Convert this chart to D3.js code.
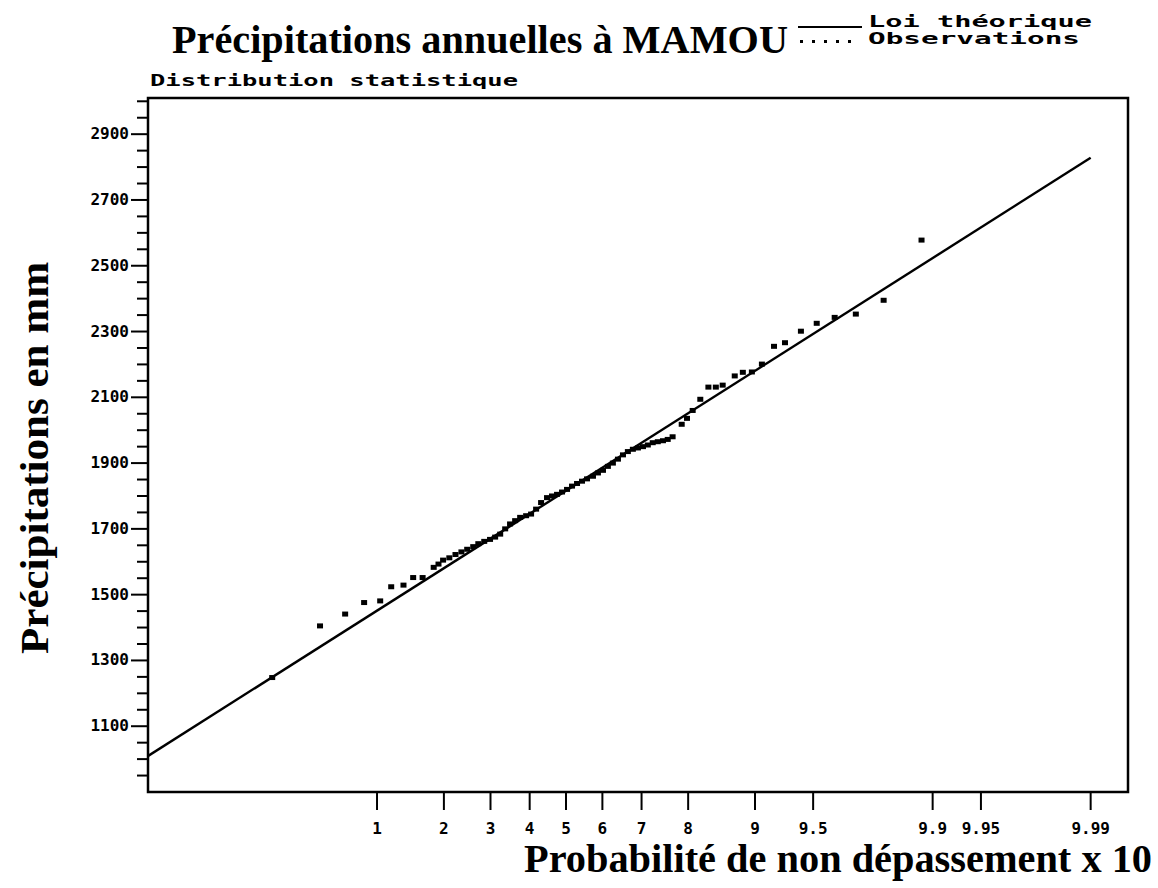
<!DOCTYPE html>
<html lang="fr">
<head>
    <meta charset="UTF-8">
    <title>Précipitations annuelles à MAMOU</title>
    <script src="https://cdn.jsdelivr.net/npm/d3@7"></script>
    <style>
        body { margin: 0; background: #fff; }
        .serif { font-family: "Liberation Serif", "DejaVu Serif", serif; font-weight: bold; fill: #000; }
        .mono { font-family: "DejaVu Sans Mono", monospace; font-weight: bold; fill: #000; }
        .frame { fill: none; stroke: #000; stroke-width: 2.5px; }
        .tick { stroke: #000; stroke-width: 2px; }
        .law { fill: none; stroke: #000; stroke-width: 2.4px; }
        .obs { fill: #000; }
    </style>
</head>
<body>
<script>
    // observations : frequence de non depassement et pluie annuelle (mm)
    const obsFreq = [0.0273, 0.0507, 0.069, 0.0863, 0.1036, 0.117, 0.1335, 0.1477, 0.1626, 0.1814, 0.19,
        0.1985, 0.2104, 0.2226, 0.2348, 0.247, 0.2602, 0.2716, 0.2852, 0.2989, 0.3112, 0.3236, 0.3361,
        0.3485, 0.3616, 0.3747, 0.3905, 0.4038, 0.4174, 0.431, 0.4473, 0.4611, 0.475, 0.4889, 0.5028,
        0.5167, 0.5306, 0.5444, 0.5582, 0.5745, 0.588, 0.6016, 0.6147, 0.6279, 0.6411, 0.654, 0.6664,
        0.6789, 0.6913, 0.7034, 0.7148, 0.7261, 0.7375, 0.7489, 0.7591, 0.7693,
        0.7876, 0.7978, 0.8084, 0.822, 0.8357, 0.8476, 0.858, 0.875, 0.8855, 0.8964, 0.9075, 0.9196,
        0.9294, 0.9418, 0.9522, 0.962, 0.9712, 0.9802, 0.9883]
    const obsRain = [1248, 1405, 1441, 1476, 1481, 1524, 1529, 1552, 1552, 1583, 1593,
        1605, 1612, 1622, 1630, 1638, 1646, 1655, 1662, 1668, 1675, 1684, 1700,
        1715, 1725, 1735, 1740, 1745, 1760, 1780, 1795, 1800, 1805, 1812, 1820,
        1830, 1838, 1845, 1852, 1860, 1870, 1878, 1890, 1900, 1912, 1925, 1935,
        1942, 1946, 1950, 1955, 1962, 1965, 1968, 1972, 1980,
        2018, 2036, 2060, 2094, 2131, 2131, 2137, 2165, 2176, 2177, 2201, 2255,
        2266, 2301, 2325, 2343, 2353, 2395, 2578]

    // axe des probabilites (x 10)
    const probTicks = [0.1, 0.2, 0.3, 0.4, 0.5, 0.6, 0.7, 0.8, 0.9, 0.95, 0.99, 0.995, 0.999]
    const probLabels = ["1", "2", "3", "4", "5", "6", "7", "8", "9", "9.5", "9.9", "9.95", "9.99"]

    // axe des pluies
    const rainLabels = [1100, 1300, 1500, 1700, 1900, 2100, 2300, 2500, 2700, 2900]

    // loi theorique ajustee : P = centre + echelle * u(F)
    const lawCentre = 1816, lawScale = 272
    const lawRange = [0.001, 0.999]

    // inverse de la loi normale (Acklam)
    function probit(p) {
        const a = [-3.969683028665376e+01, 2.209460984245205e+02, -2.759285104469687e+02, 1.383577518672690e+02, -3.066479806614716e+01, 2.506628277459239e+00]
        const b = [-5.447609879822406e+01, 1.615858368580409e+02, -1.556989798598866e+02, 6.680131188771972e+01, -1.328068155288572e+01]
        const c = [-7.784894002430293e-03, -3.223964580411365e-01, -2.400758277161838e+00, -2.549732539343734e+00, 4.374664141464968e+00, 2.938163982698783e+00]
        const d = [7.784695709041462e-03, 3.224671290700398e-01, 2.445134137142996e+00, 3.754408661907416e+00]
        const plow = 0.02425
        let q, r
        if (p < plow) {
            q = Math.sqrt(-2 * Math.log(p))
            return (((((c[0] * q + c[1]) * q + c[2]) * q + c[3]) * q + c[4]) * q + c[5]) / ((((d[0] * q + d[1]) * q + d[2]) * q + d[3]) * q + 1)
        }
        if (p > 1 - plow) {
            q = Math.sqrt(-2 * Math.log(1 - p))
            return -(((((c[0] * q + c[1]) * q + c[2]) * q + c[3]) * q + c[4]) * q + c[5]) / ((((d[0] * q + d[1]) * q + d[2]) * q + d[3]) * q + 1)
        }
        q = p - 0.5
        r = q * q
        return (((((a[0] * r + a[1]) * r + a[2]) * r + a[3]) * r + a[4]) * r + a[5]) * q / (((((b[0] * r + b[1]) * r + b[2]) * r + b[3]) * r + b[4]) * r + 1)
    }

    // variable reduite (quantile de Student, 15 ddl, Cornish-Fisher)
    function reduced(p) {
        const z = probit(p), n = 15
        return z + (z ** 3 + z) / (4 * n) + (5 * z ** 5 + 16 * z ** 3 + 3 * z) / (96 * n * n)
    }

    const width = 1158, height = 888
    const plot = {left: 148, right: 1128, top: 98, bottom: 792}

    const scaleX = d3.scaleLinear().domain([-2.965, 3.986]).range([plot.left, plot.right])
    const scaleY = d3.scaleLinear().domain([900, 3010]).range([plot.bottom, plot.top])
    const xOf = p => scaleX(reduced(p))

    const svg = d3.select("body").append("svg").attr("width", width).attr("height", height)

    svg.append("defs").append("clipPath").attr("id", "plot")
        .append("rect")
        .attr("x", plot.left).attr("y", plot.top)
        .attr("width", plot.right - plot.left).attr("height", plot.bottom - plot.top)

    // texte "matriciel" elargi
    function wideText(g, x, y, size, sx, len, txt) {
        return g.append("text").attr("class", "mono")
            .attr("transform", `translate(${x},${y}) scale(${sx},1)`)
            .style("font-size", size + "px")
            .attr("textLength", len / sx).attr("lengthAdjust", "spacingAndGlyphs")
            .text(txt)
    }

    // titres
    svg.append("text").attr("class", "serif")
        .attr("x", 172).attr("y", 53)
        .style("font-size", "40px")
        .attr("textLength", 616).attr("lengthAdjust", "spacingAndGlyphs")
        .text("Précipitations annuelles à MAMOU")

    wideText(svg, 150, 86, 15, 1.7, 368, "Distribution statistique")

    // legende
    const legend = svg.append("g")
    legend.append("line").attr("class", "tick")
        .attr("x1", 798).attr("x2", 862).attr("y1", 27).attr("y2", 27)
    legend.selectAll("rect.dot").data(d3.range(5))
        .join("rect")
        .attr("class", "dot")
        .attr("x", i => 800 + i * 12).attr("y", 40)
        .attr("width", 3).attr("height", 3)
    wideText(legend, 868, 27, 15, 1.9, 224, "Loi théorique")
    wideText(legend, 868, 44, 15, 1.9, 212, "Observations")

    // cadre
    svg.append("rect").attr("class", "frame")
        .attr("x", plot.left).attr("y", plot.top)
        .attr("width", plot.right - plot.left).attr("height", plot.bottom - plot.top)

    // axe Y : graduations tous les 50 mm, libelles tous les 200 mm
    const minor = d3.range(950, 3010, 50)
    svg.append("g").selectAll("line").data(minor)
        .join("line")
        .attr("class", "tick")
        .attr("x1", d => rainLabels.includes(d) ? plot.left - 17 : plot.left - 11)
        .attr("x2", plot.left)
        .attr("y1", d => scaleY(d)).attr("y2", d => scaleY(d))

    svg.append("g").selectAll("text").data(rainLabels)
        .join("text")
        .attr("class", "mono")
        .attr("x", plot.left - 19)
        .attr("y", d => scaleY(d) + 5)
        .attr("text-anchor", "end")
        .style("font-size", "16px")
        .text(d => d)

    // axe X : echelle de probabilite
    svg.append("g").selectAll("line").data(probTicks)
        .join("line")
        .attr("class", "tick")
        .attr("x1", d => xOf(d)).attr("x2", d => xOf(d))
        .attr("y1", plot.bottom).attr("y2", plot.bottom + 18)

    svg.append("g").selectAll("text").data(probTicks)
        .join("text")
        .attr("class", "mono")
        .attr("x", d => xOf(d))
        .attr("y", plot.bottom + 42)
        .attr("text-anchor", "middle")
        .style("font-size", "16px")
        .text((d, i) => probLabels[i])

    svg.append("text").attr("class", "serif")
        .attr("x", 1152).attr("y", 872)
        .attr("text-anchor", "end")
        .style("font-size", "40px")
        .attr("textLength", 628).attr("lengthAdjust", "spacingAndGlyphs")
        .text("Probabilité de non dépassement x 10")

    svg.append("text").attr("class", "serif")
        .attr("transform", "translate(48,458) rotate(-90)")
        .attr("text-anchor", "middle")
        .style("font-size", "40px")
        .attr("textLength", 392).attr("lengthAdjust", "spacingAndGlyphs")
        .text("Précipitations en mm")

    // loi theorique
    const view = svg.append("g").attr("clip-path", "url(#plot)")
    const line = d3.line().x(d => xOf(d)).y(d => scaleY(lawCentre + lawScale * reduced(d)))
    view.append("path").attr("class", "law").attr("d", line(lawRange))

    // observations
    view.selectAll("rect.obs").data(obsFreq)
        .join("rect")
        .attr("class", "obs")
        .attr("x", d => xOf(d) - 3)
        .attr("y", (d, i) => scaleY(obsRain[i]) - 2.5)
        .attr("width", 6).attr("height", 5)
</script>
</body>
</html>
